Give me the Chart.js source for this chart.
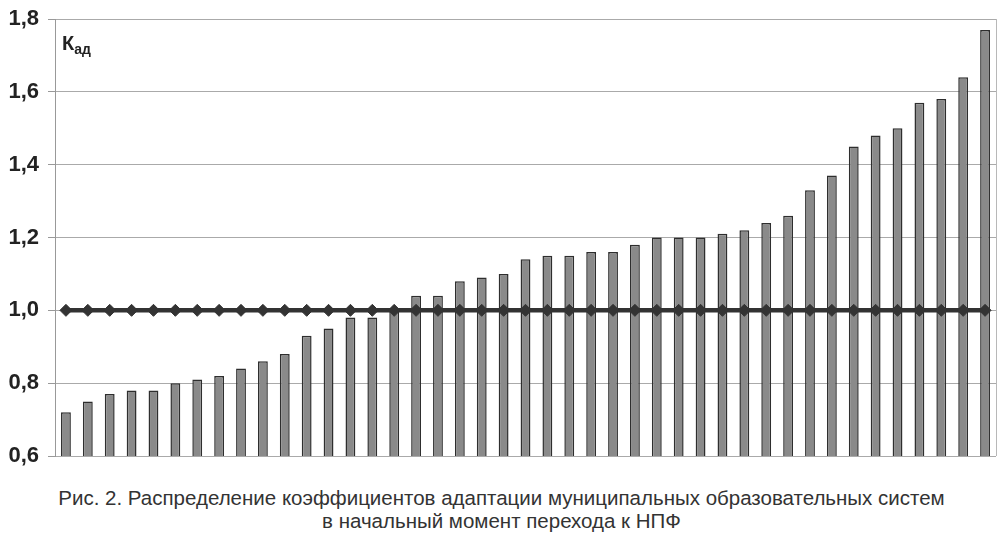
<!DOCTYPE html>
<html>
<head>
<meta charset="utf-8">
<script src="https://cdn.jsdelivr.net/npm/chart.js@4/dist/chart.umd.min.js"></script>
<style>
  html, body { margin: 0; padding: 0; background: #fff; }
  #wrap { position: relative; width: 1003px; height: 538px; }
  #c { position: absolute; left: 0; top: 0; }
  #klabel { position: absolute; left: 62px; top: 32px; font: bold 20px "Liberation Sans", Arial, sans-serif; color: #222; }
  #klabel sub { font-size: 14px; vertical-align: -4px; }
  #caption { position: absolute; left: 0; top: 486px; width: 1003px; text-align: center;
    font: 20.5px "Liberation Sans", Arial, sans-serif; color: #333; line-height: 23px; }
</style>
</head>
<body>
<div id="wrap">
  <canvas id="c" width="1003" height="475"></canvas>
  <div id="klabel">К<sub>ад</sub></div>
  <div id="caption">Рис. 2. Распределение коэффициентов адаптации муниципальных образовательных систем<br>в начальный момент перехода к НПФ</div>
</div>
<script>
const categories = Array.from({length: 43}, (_, i) => String(i + 1));
const kadValues = [0.72, 0.75, 0.77, 0.78, 0.78, 0.80, 0.81, 0.82, 0.84, 0.86, 0.88, 0.93, 0.95, 0.98, 0.98,
  1.00, 1.04, 1.04, 1.08, 1.09, 1.10, 1.14, 1.15, 1.15, 1.16, 1.16, 1.18, 1.20, 1.20, 1.20, 1.21, 1.22,
  1.24, 1.26, 1.33, 1.37, 1.45, 1.48, 1.50, 1.57, 1.58, 1.64, 1.77];
const thresholdValues = [1, 1, 1, 1, 1, 1, 1, 1, 1, 1, 1, 1, 1, 1, 1, 1, 1, 1, 1, 1, 1, 1,
  1, 1, 1, 1, 1, 1, 1, 1, 1, 1, 1, 1, 1, 1, 1, 1, 1, 1, 1, 1, 1];
const yTicks = [0.6, 0.8, 1.0, 1.2, 1.4, 1.6, 1.8];

const rightBorder = {
  id: 'rightBorder',
  afterDraw(chart) {
    const a = chart.chartArea, ctx = chart.ctx;
    ctx.save();
    ctx.strokeStyle = '#b8b8b8';
    ctx.lineWidth = 1;
    ctx.beginPath();
    ctx.moveTo(Math.round(a.right) + 0.5, a.top);
    ctx.lineTo(Math.round(a.right) + 0.5, a.bottom);
    ctx.stroke();
    ctx.restore();
  }
};

new Chart(document.getElementById('c'), {
  data: {
    labels: categories,
    datasets: [
      {
        type: 'line',
        data: thresholdValues,
        order: 0,
        borderColor: '#333333',
        borderWidth: 4.5,
        pointStyle: 'rectRot',
        pointRadius: 6,
        pointBackgroundColor: '#333333',
        pointBorderColor: '#333333',
        pointBorderWidth: 1,
        tension: 0
      },
      {
        type: 'bar',
        data: kadValues,
        order: 1,
        backgroundColor: '#8a8a8a',
        borderColor: '#2e2e2e',
        borderWidth: 1.5,
        borderSkipped: 'bottom',
        categoryPercentage: 1,
        barPercentage: 0.45
      }
    ]
  },
  options: {
    responsive: false,
    animation: false,
    layout: { padding: { left: 0, right: 4, top: 19, bottom: 19 } },
    plugins: { legend: { display: false }, tooltip: { enabled: false } },
    scales: {
      x: { display: false, offset: true },
      y: {
        min: 0.6, max: 1.8,
        afterFit(s) { s.width = 55; s.paddingTop = 0; s.paddingBottom = 0; },
        afterBuildTicks(s) { s.ticks = yTicks.map(v => ({ value: v })); },
        border: { display: true, color: '#999999', width: 1 },
        grid: { color: '#aaaaaa', lineWidth: 1, drawTicks: true, tickLength: 7, tickColor: '#999999' },
        ticks: {
          padding: 9,
          color: '#222222',
          font: { family: '"Liberation Sans", Arial, sans-serif', size: 22, weight: 'bold' },
          callback: v => v.toFixed(1).replace('.', ',')
        }
      }
    }
  },
  plugins: [rightBorder]
});
</script>
</body>
</html>
